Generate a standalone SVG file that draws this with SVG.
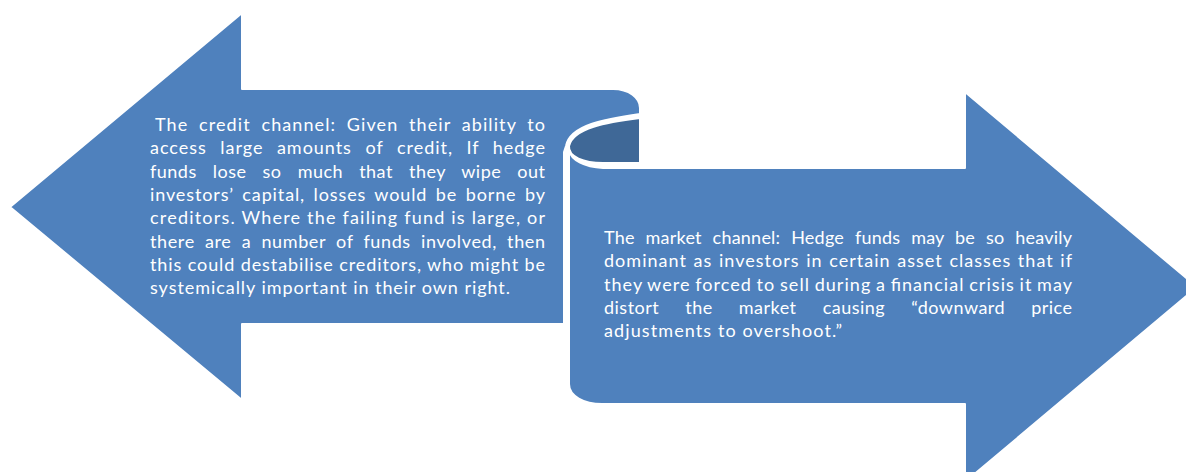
<svg xmlns="http://www.w3.org/2000/svg" width="1186" height="472" viewBox="0 0 1186 472">
<style>
.face{fill:#4F81BD;stroke:#FFFFFF;stroke-width:2;stroke-linejoin:round}
.back{fill:#3F6897;stroke:#FFFFFF;stroke-width:2;stroke-linejoin:round}
.t{font-family:Lato,"Liberation Sans",sans-serif;font-size:18px;fill:#FFFFFF}
</style>
<rect width="1186" height="472" fill="#FFFFFF"/>
<g id="curl-back">
<path class="back" d="M640,118 C607,122 573,128 569,146 C568,157 584,163 603,163 L640,163 Z"/>
</g>
<g id="market-arrow">
<path class="face" d="M569,150 C571,160 584,167 603,168 L965,168 L965,92 L1197,287 L965,482 L965,404 L602,404 C584,404 569,396 569,384 Z"/>
<g class="t">
<text x="604" y="244" textLength="468" lengthAdjust="spacing" word-spacing="6">The market channel: Hedge funds may be so heavily</text>
<text x="604" y="267.3" textLength="468" lengthAdjust="spacing" word-spacing="1">dominant as investors in certain asset classes that if</text>
<text x="604" y="290.6" textLength="468" lengthAdjust="spacing" word-spacing="-1">they were forced to sell during a financial crisis it may</text>
<text x="604" y="313.9" textLength="468" lengthAdjust="spacing" word-spacing="21">distort the market causing “downward price</text>
<text x="604" y="337.2" textLength="238" lengthAdjust="spacing">adjustments to overshoot.”</text>
</g>
</g>
<g id="credit-arrow">
<path class="face" d="M10,207 L242,13 L242,89 L613,89 C629,89 640,98 640,108 L640,114 C605,119 570,125 566,146 L564,152 L564,324 L242,324 L242,400 Z"/>
<g class="t">
<text x="155" y="131" textLength="390" lengthAdjust="spacing" word-spacing="5">The credit channel: Given their ability to</text>
<text x="150" y="154.3" textLength="395" lengthAdjust="spacing" word-spacing="8">access large amounts of credit, If hedge</text>
<text x="150" y="177.6" textLength="395" lengthAdjust="spacing" word-spacing="11">funds lose so much that they wipe out</text>
<text x="150" y="200.9" textLength="395" lengthAdjust="spacing" word-spacing="3">investors’ capital, losses would be borne by</text>
<text x="150" y="224.2" textLength="395" lengthAdjust="spacing">creditors. Where the failing fund is large, or</text>
<text x="150" y="247.5" textLength="395" lengthAdjust="spacing" word-spacing="5">there are a number of funds involved, then</text>
<text x="150" y="270.8" textLength="395" lengthAdjust="spacing">this could destabilise creditors, who might be</text>
<text x="150" y="294" textLength="360" lengthAdjust="spacing">systemically important in their own right.</text>
</g>
</g>
<g id="connectors"></g>
</svg>
